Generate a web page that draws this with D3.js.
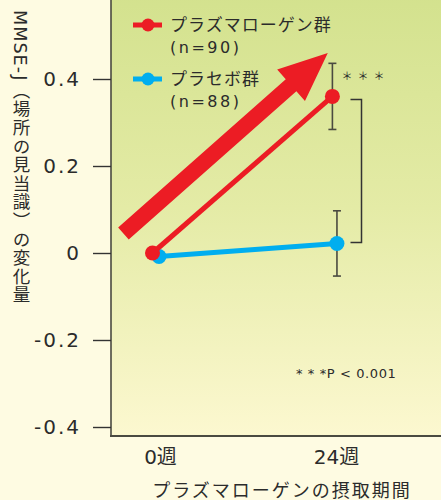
<!DOCTYPE html>
<html>
<head>
<meta charset="utf-8">
<script src="https://cdn.jsdelivr.net/npm/d3@7"></script>
<style>
  body { margin: 0; background: #fefbe2; }
  svg { display: block; }
  text { font-family: "DejaVu Sans", "Noto Sans CJK JP", sans-serif; fill: #2b2b2b; }
</style>
</head>
<body>
<div id="chart"></div>
<script>
// data
const weeks = [0, 24];
const weekLabels = ["0週", "24週"];
const plasmalogen = [0.0, 0.36];
const plasmalogenErr = [0, 0.076];
const placebo = [-0.008, 0.022];
const placeboErr = [0, 0.075];
const yTicks = [-0.4, -0.2, 0, 0.2, 0.4, 0.6];
const groupNames = ["プラズマローゲン群", "プラセボ群"];
const groupN = ["(n=90)", "(n=88)"];
const pNote = "* * *P < 0.001";
const yTitle = "MMSE-J（場所の見当識）の変化量";
const xTitle = "プラズマローゲンの摂取期間";
// arrow annotation, in data units [week, value]
const arrowFrom = [-4.3, 0.045];
const arrowTo = [23.1, 0.46];

const W = 441, H = 500;
const red = "#ec1c24", blue = "#00aeef";

const svg = d3.select("#chart").append("svg")
  .attr("width", W).attr("height", H);

const defs = svg.append("defs");
const grad = defs.append("linearGradient").attr("id", "bg")
  .attr("x1", 0).attr("y1", 0).attr("x2", 0).attr("y2", 1);
grad.append("stop").attr("offset", "0%").attr("stop-color", "#d2e18c");
grad.append("stop").attr("offset", "50%").attr("stop-color", "#e4eba6");
grad.append("stop").attr("offset", "100%").attr("stop-color", "#fcf8d0");

const x = d3.scaleLinear().domain([0, 24]).range([155.5, 334.5]);
const y = d3.scaleLinear().domain([-0.4, 0.6]).range([427, -8]);

const left = 111, bottom = 436;

// plot panel
svg.append("rect")
  .attr("x", left).attr("y", -20)
  .attr("width", W - left + 20).attr("height", bottom + 20)
  .attr("fill", "url(#bg)");
svg.append("line")
  .attr("x1", left).attr("x2", left).attr("y1", -20).attr("y2", bottom)
  .attr("stroke", "#4a4a40").attr("stroke-width", 1.6);
svg.append("line")
  .attr("x1", left - 1).attr("x2", W).attr("y1", bottom).attr("y2", bottom)
  .attr("stroke", "#4a4a40").attr("stroke-width", 2.2);

// y axis
const yAxis = svg.append("g")
  .attr("transform", "translate(" + left + ",0)")
  .call(d3.axisLeft(y).tickValues(yTicks).tickSize(18).tickPadding(12)
    .tickFormat(d => d === 0 ? "0" : d.toFixed(1)));
yAxis.select(".domain").remove();
yAxis.selectAll(".tick line").attr("stroke", "#333").attr("stroke-width", 1.4);
yAxis.selectAll(".tick text")
  .style("font-size", "20px").style("letter-spacing", "2px")
  .attr("fill", "#2b2b2b");

// y title (vertical writing)
svg.append("text")
  .attr("x", 20).attr("y", 10)
  .style("writing-mode", "vertical-rl")
  .style("text-orientation", "mixed")
  .style("font-size", "17.5px")
  .style("letter-spacing", "1.1px")
  .text(yTitle);

// x tick labels
svg.selectAll(".xlab").data(weeks).enter().append("text")
  .attr("class", "xlab")
  .attr("x", (d, i) => x(d) + (i === 0 ? 5 : 2))
  .attr("y", 464)
  .attr("text-anchor", "middle")
  .style("font-size", "20px")
  .text((d, i) => weekLabels[i]);

svg.append("text")
  .attr("x", 282).attr("y", 497)
  .attr("text-anchor", "middle")
  .style("font-size", "18px").style("letter-spacing", "2px")
  .text(xTitle);

// big arrow
const ax0 = x(arrowFrom[0]), ay0 = y(arrowFrom[1]);
const ax1 = x(arrowTo[0]), ay1 = y(arrowTo[1]);
const len = Math.hypot(ax1 - ax0, ay1 - ay0);
const ux = (ax1 - ax0) / len, uy = (ay1 - ay0) / len;
const nx = -uy, ny = ux;
const shaft = 8, headW = 21, headL = 49;
const bx = ax1 - ux * headL, by = ay1 - uy * headL;
const arrowPts = [
  [ax0 + nx * shaft, ay0 + ny * shaft],
  [bx + nx * shaft, by + ny * shaft],
  [bx + nx * headW, by + ny * headW],
  [ax1, ay1],
  [bx - nx * headW, by - ny * headW],
  [bx - nx * shaft, by - ny * shaft],
  [ax0 - nx * shaft, ay0 - ny * shaft]
];
svg.append("path")
  .attr("d", d3.line()(arrowPts) + "Z")
  .attr("fill", red);

// series
const series = [
  { vals: placebo, err: placeboErr, color: blue, dx: 3.5 },
  { vals: plasmalogen, err: plasmalogenErr, color: red, dx: -3 }
];

// error bars
series.forEach(s => {
  const g = svg.append("g");
  weeks.forEach((w, i) => {
    if (!s.err[i]) return;
    const cx = x(w) + s.dx * (i === 0 ? 1 : 0.7);
    const t = y(s.vals[i] + s.err[i]), b = y(s.vals[i] - s.err[i]);
    g.append("line").attr("x1", cx).attr("x2", cx).attr("y1", t).attr("y2", b)
      .attr("stroke", "#4a4a40").attr("stroke-width", 1.6);
    [t, b].forEach(yy => g.append("line")
      .attr("x1", cx - 4).attr("x2", cx + 4).attr("y1", yy).attr("y2", yy)
      .attr("stroke", "#4a4a40").attr("stroke-width", 1.6));
  });
});

// lines + points (blue under red)
series.forEach(s => {
  const pts = weeks.map((w, i) => [x(w) + s.dx * (i === 0 ? 1 : 0.7), y(s.vals[i])]);
  svg.append("path")
    .attr("d", d3.line()(pts))
    .attr("fill", "none").attr("stroke", s.color).attr("stroke-width", 5);
  svg.selectAll(null).data(pts).enter().append("circle")
    .attr("cx", d => d[0]).attr("cy", d => d[1]).attr("r", 7.5)
    .attr("fill", s.color);
});

// significance bracket
const bxr = x(24) + 27;
svg.append("path")
  .attr("d", d3.line()([
    [x(24) + 16, y(plasmalogen[1]) + 3],
    [bxr, y(plasmalogen[1]) + 3],
    [bxr, y(placebo[1]) - 1],
    [x(24) + 16, y(placebo[1]) - 1]
  ]))
  .attr("fill", "none").attr("stroke", "#333").attr("stroke-width", 1.5);

svg.append("text")
  .attr("x", x(24) + 7).attr("y", y(0.4) + 1)
  .style("font-size", "11px").style("letter-spacing", "5px")
  .attr("fill", "#555")
  .text("＊＊＊");

svg.append("text")
  .attr("x", 296).attr("y", 378)
  .style("font-size", "13px").style("letter-spacing", "0.6px")
  .text(pNote);

// legend
const legend = svg.append("g");
[red, blue].forEach((c, i) => {
  const ly = 25 + i * 54;
  legend.append("line").attr("x1", 133).attr("x2", 162).attr("y1", ly).attr("y2", ly)
    .attr("stroke", c).attr("stroke-width", 5);
  legend.append("circle").attr("cx", 148).attr("cy", ly).attr("r", 6.5).attr("fill", c);
  legend.append("text").attr("x", 170).attr("y", ly + 6)
    .style("font-size", "17px").style("letter-spacing", "1px")
    .text(groupNames[i]);
  legend.append("text").attr("x", 170).attr("y", ly + 28)
    .style("font-size", "16px").style("letter-spacing", "2.5px")
    .text(groupN[i]);
});
</script>
</body>
</html>
